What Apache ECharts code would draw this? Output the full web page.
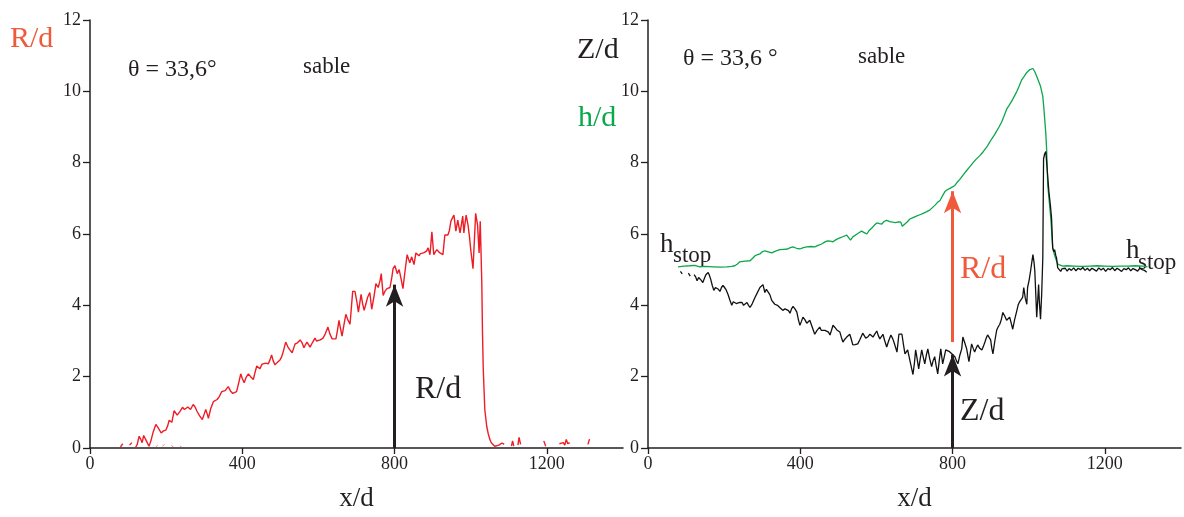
<!DOCTYPE html>
<html>
<head>
<meta charset="utf-8">
<script src="https://cdn.jsdelivr.net/npm/echarts@6/dist/echarts.min.js"></script>
<style>
html,body{margin:0;padding:0;background:#fff;}
#chart{width:1184px;height:517px;}
</style>
</head>
<body>
<div id="chart"></div>
<script>
// ---- data ----
var xTicks = [0, 400, 800, 1200];
var yTicks = [0, 2, 4, 6, 8, 10, 12];

// Left panel: R/d vs x/d ('-' = gap)
var rX = [80,86,92,104,110,114,120,124,129,133,137,141,144,149,155,160,166,173,180,187,193,199,204,208,215,221,229,236,243,248,252,257,260,264,271,276,281,288,295,300,304,308,311,317,324,329,334,340,346,350,355,359,363,369,375,380,385,390,396,400,405,410,416,422,429,433,438,442,446,452,457,462,468,472,477,481,486,492,499,503,506,510,514,517,520,525,531,535,539,545,552,557,562,566,570,574,578,584,591,595,599,605,612,618,625,630,636,641,646,650,654,658,662,667,672,677,683,687,690,696,701,705,712,716,720,725,729,735,740,746,751,757,762,765,770,775,780,788,793,796,801,807,812,817,822,827,833,840,845,851,856,860,864,868,872,876,880,884,888,893,898,903,907,911,915,919,923,927,932,936,940,944,948,952,956,961,966,969,972,976,979,982,985,988,993,997,1000,1003,1006,1010,1013,1018,1022,1025,1029,1031,1033,1037,1042,1046,1050,1054,1058,1063,1068,1074,1078,1082,1088,1095,1107,1110,1113,1118,1124,1127,1131,1140,1192,1197,1210,1233,1238,1243,1247,1251,1255,1260,1270,1308,1312];
var rY = [0.03,0.12,'-',0.08,0.15,'-',0.02,0.1,0.33,0.25,0.15,0.35,0.33,0.18,0.05,0.2,0.45,0.66,0.55,0.42,0.48,0.5,0.62,0.78,0.72,1.05,0.92,1.02,1.14,1.08,1.05,1.15,1.19,1.08,1.22,1.15,1.03,0.9,0.8,0.95,1.08,0.95,0.83,1.1,1.3,1.3,1.36,1.45,1.58,1.6,1.61,1.65,1.72,1.6,1.53,1.55,1.58,1.8,2.08,1.95,1.83,1.98,2.08,2.0,1.92,2.1,2.3,2.25,2.22,2.35,2.39,2.38,2.36,2.45,2.61,2.45,2.33,2.4,2.47,2.55,2.64,2.8,2.97,2.9,2.83,2.75,2.67,2.8,2.92,2.95,3.03,2.95,2.81,2.9,2.97,2.9,2.83,2.95,3.08,3.0,2.97,3.03,3.08,3.2,3.39,3.2,3.06,3.08,3.06,3.3,3.58,3.35,3.14,3.45,3.75,3.6,3.47,4.0,4.39,4.39,4.1,3.81,4.31,4.05,3.86,4.05,4.22,4.36,3.89,4.25,4.61,4.5,4.7,4.89,4.28,4.4,4.47,4.5,4.8,5.03,5.11,4.89,5.0,4.75,4.47,4.92,5.42,5.19,5.36,5.14,5.47,5.42,5.39,5.45,5.5,5.47,5.44,5.52,5.61,5.42,6.06,5.42,5.5,5.56,5.52,5.47,5.45,5.42,5.97,5.95,5.97,6.1,6.36,6.45,6.53,6.08,6.39,6.2,6.03,6.3,6.5,6.03,6.3,6.53,6.25,5.9,5.56,5.3,5.03,5.9,6.58,6.25,5.47,6.36,4.69,3.2,2.2,1.08,0.61,0.4,0.25,0.15,0.11,0.05,0.03,0.08,0.06,0.14,0.1,'-',0.05,0.2,0.05,'-',0.08,0.3,0.1,'-',0.2,0.05,'-',0.12,0.1,0.15,0.08,0.24,0.12,0.15,'-',0.1,0.25];
// faint trace near zero under the rising part
var rLowX = [172,178,183,190,196,201,214,219,224,236,241];
var rLowY = [0.02,0.08,'-',0.05,0.1,'-',0.08,0.02,'-',0.06,0.02];

// Right panel: Z/d (black)
var zX = [85,90,95,106,111,116,121,125,129,133,136,140,144,148,152,158,161,165,169,173,177,181,185,189,193,197,201,205,210,215,220,224,228,232,236,241,247,251,255,260,264,268,274,281,287,294,302,307,311,315,320,325,333,340,346,350,354,360,365,369,373,377,381,386,391,395,399,403,407,412,417,421,425,431,438,444,451,455,459,465,470,474,478,482,486,491,496,500,504,508,512,517,522,526,530,534,538,544,551,557,564,568,572,578,583,587,591,596,601,605,609,613,617,622,627,632,638,643,648,654,659,663,667,671,675,682,689,696,700,703,707,711,715,719,723,727,731,735,740,745,749,753,757,761,765,769,774,778,782,787,792,798,802,806,810,814,819,824,827,832,837,840,843,847,850,854,858,862,866,871,877,881,885,889,892,896,900,903,906,911,916,920,924,928,932,937,942,946,950,954,958,963,969,972,976,980,984,987,991,995,997,1001,1005,1008,1011,1014,1016,1019,1021,1024,1026,1028,1031,1034,1037,1039,1042,1045,1047,1050,1053,1057,1060,1063,1066,1068,1071,1073,1076,1080,1084,1087,1091,1096,1101,1106,1112,1118,1124,1130,1136,1142,1148,1154,1160,1166,1172,1178,1184,1190,1196,1202,1208,1214,1220,1226,1232,1238,1244,1250,1256,1262,1268,1274,1280,1286,1292,1298,1304,1310];
var zY = [4.95,4.88,'-',4.9,4.82,'-',4.86,4.8,4.69,4.78,4.81,4.7,4.64,4.75,4.86,4.92,4.85,4.72,4.55,4.42,4.5,4.53,4.45,4.39,4.5,4.56,4.5,4.44,4.31,4.15,4.0,4.1,4.14,4.05,4.03,4.08,4.08,4.0,3.97,4.08,4.0,3.94,4.05,4.22,4.35,4.5,4.58,4.36,4.45,4.5,4.3,4.14,4.03,4.0,3.94,3.9,3.86,3.9,3.94,3.85,3.78,3.9,3.97,3.9,3.81,3.6,3.44,3.55,3.67,3.6,3.5,3.55,3.58,3.4,3.19,3.3,3.39,3.3,3.25,3.3,3.31,3.25,3.17,3.3,3.44,3.38,3.31,3.28,3.25,3.1,2.97,3.05,3.11,3.15,3.19,3.05,2.89,2.9,2.92,3.05,3.22,3.15,3.08,3.12,3.19,3.15,3.11,3.2,3.28,3.15,3.06,3.12,3.19,3.0,2.83,3.0,3.17,3.06,2.9,2.69,3.19,3.2,3.19,2.9,2.64,2.75,2.4,2.06,2.4,2.75,2.5,2.22,2.5,2.75,2.55,2.36,2.6,2.78,2.5,2.28,2.45,2.56,2.3,2.08,2.45,2.78,2.36,2.55,2.75,2.78,2.7,2.64,2.6,2.56,2.45,2.36,2.6,2.78,3.11,2.95,2.78,2.6,2.42,2.7,2.92,2.8,2.69,2.8,2.89,2.8,2.75,2.85,2.97,3.1,3.17,3.1,3.03,2.8,2.64,3.0,3.31,3.4,3.47,3.6,3.8,3.7,3.58,3.62,3.67,3.5,3.33,3.6,3.86,4.0,4.1,4.15,4.22,4.5,4.2,4.03,4.5,4.7,4.97,5.2,5.42,5.2,4.97,4.2,3.67,4.2,4.58,4.1,3.61,4.3,5.33,8.11,8.25,8.31,8.03,7.6,7.19,6.8,6.44,5.61,5.5,5.56,5.4,5.33,5.06,5.02,4.95,5.02,4.98,5.04,4.96,5.03,4.98,5.05,4.97,5.04,5.0,5.06,4.98,5.04,4.97,5.04,5.0,4.96,5.05,4.99,5.04,4.95,5.03,5.0,5.06,4.97,5.04,5.0,4.95,5.03,5.0,5.05,4.97,5.03,5.0,4.96,5.04,5.0,4.98,4.93];

// Right panel: h/d (green)
var hX = [79,95,110,123,136,150,171,190,207,220,228,235,241,255,268,275,281,288,294,300,307,316,325,335,346,356,367,374,381,390,399,408,417,428,438,447,456,465,472,479,486,495,504,513,522,527,532,538,543,552,561,568,575,581,588,595,601,608,614,620,627,635,643,650,658,664,668,672,680,688,696,705,714,723,731,740,747,754,760,767,773,780,786,793,800,806,812,819,828,837,845,854,862,871,880,890,896,903,910,916,922,929,935,942,948,955,962,969,975,982,988,995,999,1003,1007,1011,1016,1021,1026,1031,1037,1040,1042,1045,1047,1050,1054,1058,1063,1068,1073,1077,1081,1090,1100,1120,1140,1160,1180,1200,1220,1240,1260,1280,1300,1312];
var hY = [5.08,5.1,5.11,5.12,5.08,5.09,5.08,5.07,5.08,5.09,5.11,5.16,5.22,5.24,5.25,5.32,5.39,5.42,5.44,5.5,5.53,5.5,5.47,5.52,5.56,5.57,5.58,5.62,5.64,5.6,5.58,5.62,5.64,5.65,5.64,5.68,5.72,5.78,5.81,5.8,5.78,5.85,5.89,5.93,5.97,5.9,5.83,5.92,5.97,6.02,6.08,6.04,6.0,6.1,6.17,6.25,6.31,6.29,6.28,6.35,6.38,6.35,6.33,6.32,6.34,6.33,6.22,6.19,6.33,6.42,6.46,6.5,6.54,6.58,6.62,6.67,6.74,6.81,6.88,6.94,7.06,7.19,7.24,7.28,7.32,7.36,7.45,7.53,7.66,7.78,7.88,8.0,8.1,8.19,8.3,8.44,8.55,8.67,8.78,8.89,9.0,9.14,9.3,9.5,9.6,9.72,9.86,10.0,10.15,10.33,10.42,10.53,10.58,10.61,10.58,10.64,10.55,10.42,10.28,10.14,9.86,9.5,9.22,8.8,8.39,7.36,6.9,6.44,5.61,5.4,5.25,5.15,5.11,5.1,5.11,5.1,5.09,5.1,5.11,5.1,5.09,5.1,5.1,5.11,5.1,5.08];

// arrows (x/d position, from, to)
var arrowX = 800;
var leftArrow = [0, 4.58];
var rightZArrow = [0, 2.62];
var rightRArrow = [2.97, 7.2];

// ---- helpers ----
function zip(xs, ys) { return xs.map(function (x, i) { return [x, ys[i]]; }); }

var SERIF = '"Liberation Serif", "DejaVu Serif", serif';
var AX = '#231f20';
var RED = '#ee1c25';
var ORANGE = '#f05a3c';
var GREEN = '#0aa74b';

function plain(v) { return String(v); }

function xAxisDef(idx) {
  return {
    gridIndex: idx, type: 'value', min: 0, max: 1400, interval: 400,
    axisLine: { show: true, onZero: false, lineStyle: { color: AX, width: 1.5 } },
    axisTick: { show: true, inside: false, length: 6, lineStyle: { color: AX, width: 1.3 } },
    axisLabel: { color: AX, fontFamily: SERIF, fontSize: 18, margin: 7, showMaxLabel: false, formatter: plain },
    splitLine: { show: false },
    name: 'x/d', nameLocation: 'middle', nameGap: 37,
    nameTextStyle: { color: AX, fontFamily: SERIF, fontSize: 27 }
  };
}
function yAxisDef(idx) {
  return {
    gridIndex: idx, type: 'value', min: 0, max: 12, interval: 2,
    axisLine: { show: true, onZero: false, lineStyle: { color: AX, width: 1.5 } },
    axisTick: { show: true, inside: false, length: 7, lineStyle: { color: AX, width: 1.3 } },
    axisLabel: { color: AX, fontFamily: SERIF, fontSize: 18, margin: 9, formatter: plain },
    splitLine: { show: false }
  };
}
function arrowMark(x, y0, y1, color) {
  return {
    silent: true, symbol: ['none', 'arrow'], symbolSize: [13, 22],
    label: { show: false },
    lineStyle: { color: color, width: 3, type: 'solid' },
    emphasis: { disabled: true },
    data: [[{ coord: [x, y0] }, { coord: [x, y1] }]]
  };
}
function txt(x, y, text, size, color, align) {
  return { type: 'text', x: x, y: y, silent: true,
    style: { text: text, fill: color, font: size + 'px ' + SERIF,
      textAlign: align || 'left', textVerticalAlign: 'middle' } };
}

var chart = echarts.init(document.getElementById('chart'), null, { renderer: 'canvas' });
chart.setOption({
  animation: false,
  backgroundColor: '#ffffff',
  grid: [
    { left: 90, top: 20, width: 533, height: 432 },
    { left: 648, top: 20, width: 533, height: 432 }
  ],
  xAxis: [xAxisDef(0), xAxisDef(1)],
  yAxis: [yAxisDef(0), yAxisDef(1)],
  series: [
    { type: 'line', xAxisIndex: 0, yAxisIndex: 0, data: zip(rX, rY), showSymbol: false,
      connectNulls: false, lineStyle: { color: RED, width: 1.4 }, itemStyle: { color: RED },
      markLine: arrowMark(arrowX, leftArrow[0], leftArrow[1], AX), z: 3 },
    { type: 'line', xAxisIndex: 0, yAxisIndex: 0, data: zip(rLowX, rLowY), showSymbol: false,
      connectNulls: false, lineStyle: { color: RED, width: 1, opacity: 0.55 }, z: 2 },
    { type: 'line', xAxisIndex: 1, yAxisIndex: 1, data: zip(hX, hY), showSymbol: false,
      lineStyle: { color: GREEN, width: 1.3 }, itemStyle: { color: GREEN },
      markLine: arrowMark(arrowX, rightRArrow[0], rightRArrow[1], ORANGE), z: 3 },
    { type: 'line', xAxisIndex: 1, yAxisIndex: 1, data: zip(zX, zY), showSymbol: false,
      connectNulls: false, lineStyle: { color: '#111111', width: 1.3 }, itemStyle: { color: '#111' },
      markLine: arrowMark(arrowX, rightZArrow[0], rightZArrow[1], AX), z: 4 }
  ],
  graphic: [
    txt(10, 39, 'R/d', 30, ORANGE),
    txt(128, 70, 'θ = 33,6°', 24, AX),
    txt(303, 67, 'sable', 23, AX),
    txt(415, 390, 'R/d', 32, AX),
    txt(577, 50, 'Z/d', 30, AX),
    txt(578, 118, 'h/d', 30, GREEN),
    txt(683, 59, 'θ = 33,6 °', 24, AX),
    txt(858, 57, 'sable', 23, AX),
    txt(960, 270, 'R/d', 32, ORANGE),
    txt(960, 412, 'Z/d', 32, AX),
    txt(660, 245, 'h', 27, AX),
    txt(673, 256, 'stop', 23, AX),
    txt(1126, 251, 'h', 27, AX),
    txt(1138, 263, 'stop', 23, AX)
  ]
});
</script>
</body>
</html>
